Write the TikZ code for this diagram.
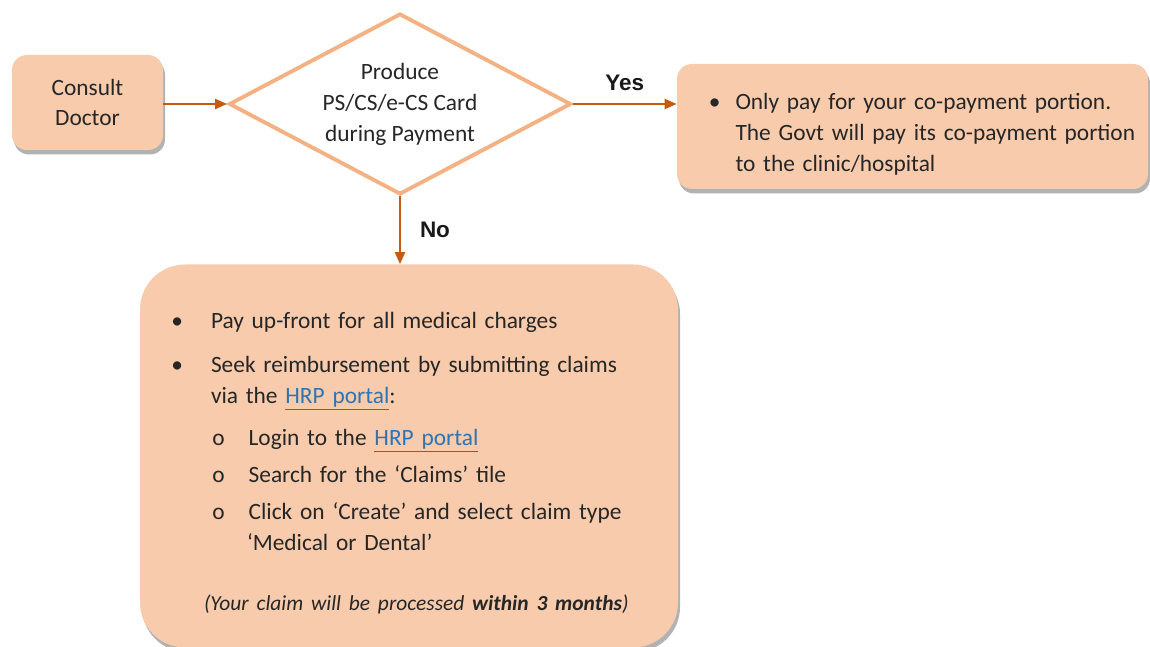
\documentclass[tikz,border=0pt]{standalone}
\usepackage{fontspec}
\setmainfont{Carlito}
\newfontfamily\answerfont{Liberation Sans}
\usepackage{xcolor}
\usetikzlibrary{shapes.geometric, arrows.meta, positioning, calc, shadows}

\definecolor{peach}{HTML}{F8CBAD}
\definecolor{peachline}{HTML}{F4B183}
\definecolor{rust}{HTML}{C55A11}
\definecolor{linkblue}{HTML}{2E74B5}

\newcommand{\hrplink}{\textcolor{linkblue}{\underline{HRP portal}}}

\newenvironment{dotlist}[2]{\begin{list}{\textbullet}{\setlength\leftmargin{#1}\setlength\labelsep{#2}%
  \setlength\topsep{0pt}\setlength\partopsep{0pt}\setlength\parsep{0pt}\setlength\itemsep{0.26cm}}}{\end{list}}
\newenvironment{ringlist}{\begin{list}{o}{\setlength\leftmargin{0.72cm}\setlength\labelsep{0.48cm}%
  \setlength\topsep{0.22cm}\setlength\partopsep{0pt}\setlength\parsep{0pt}\setlength\itemsep{0.12cm}}}{\end{list}}

\begin{document}
\begin{tikzpicture}[
    textfont/.style={font=\fontsize{13.3pt}{17.6pt}\selectfont, text=black!85},
    decision/.style={diamond, aspect=1.89, draw=peachline, line width=2.2pt, fill=white, minimum width=6.84cm,
        minimum height=3.62cm, inner sep=0pt, align=center, textfont},
    process/.style={rectangle, rounded corners=0.3cm, fill=peach, align=center, textfont,
        drop shadow={shadow xshift=0.04cm, shadow yshift=-0.09cm, opacity=0.3, fill=black}},
    arrow/.style={-{Triangle[length=0.24cm, width=0.2cm]}, rust, line width=1.3pt},
    answer/.style={font=\answerfont\fontsize{12.8pt}{15pt}\selectfont\bfseries, text=black!90}
]
\useasboundingbox (0,0) rectangle (23,-12.94);

\node[process, minimum width=3.02cm, minimum height=1.9cm] (consult) at (1.75,-2.05) {Consult\\Doctor};
\node[decision] (card) at (8,-2.08) {Produce\\PS/CS/e-CS Card\\during Payment};
\node[process, minimum width=9.42cm, minimum height=2.5cm, inner xsep=0.1cm, inner ysep=0pt,
    text width=9.2cm, align=left] (copay) at (18.25,-2.53) {%
  \begin{dotlist}{1.06cm}{0.3cm}
  \item Only pay for your co-payment portion.\newline
    The Govt will pay its co-payment portion\newline
    to the clinic/hospital
  \end{dotlist}};
\node[process, rounded corners=0.9cm, minimum width=10.76cm, minimum height=7.66cm, inner xsep=0.3cm,
    inner ysep=0pt, text width=10.16cm, align=left] (upfront) at (8.18,-9.12) {%
  \begin{dotlist}{1.12cm}{0.56cm}
  \item Pay up-front for all medical charges
  \item Seek reimbursement by submitting claims\newline via the \hrplink:
    \begin{ringlist}
    \item Login to the \hrplink
    \item Search for the `Claims' tile
    \item Click on `Create' and select claim type\newline `Medical or Dental'
    \end{ringlist}
  \end{dotlist}
  \par\addvspace{0.6cm}\noindent\hspace*{0.98cm}{\fontsize{12.2pt}{17.6pt}\selectfont
  \textit{(Your claim will be processed \textbf{within 3 months})}}};

\draw[arrow] (consult.east |- card.west) -- (card.west);
\draw[arrow] (card.east) -- node[above=0.12cm, answer] {Yes} (card.east -| copay.west);
\draw[arrow] (card.south) -- node[right=0.26cm, answer] {No} (card.south |- upfront.north);

\end{tikzpicture}
\end{document}
